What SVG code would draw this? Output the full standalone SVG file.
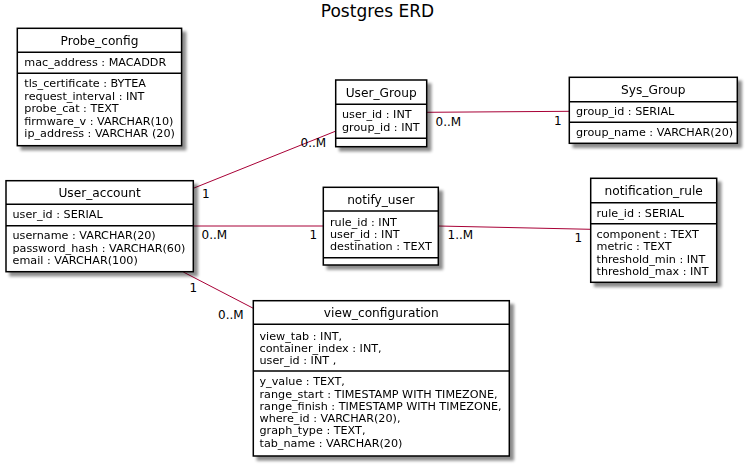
<svg xmlns="http://www.w3.org/2000/svg" width="747" height="466" viewBox="0 0 747 466">
<defs>
<filter id="sh" x="-10%" y="-10%" width="130%" height="130%">
<feGaussianBlur in="SourceAlpha" stdDeviation="1.8"/>
<feOffset dx="4" dy="4" result="b"/>
<feComponentTransfer><feFuncA type="linear" slope="0.45"/></feComponentTransfer>
<feMerge><feMergeNode/><feMergeNode in="SourceGraphic"/></feMerge>
</filter>
</defs>
<style>
.box{fill:#ffffff;stroke:#000000;stroke-width:1.5}
.sep{stroke:#000000;stroke-width:1.5}
.name{font-family:"DejaVu Sans",sans-serif;font-size:12.2px;fill:#000;text-anchor:middle}
.attr{font-family:"DejaVu Sans",sans-serif;font-size:11.2px;fill:#000}
.lbl{font-family:"DejaVu Sans",sans-serif;font-size:12px;fill:#000}
.con{stroke:#A80036;stroke-width:1;fill:none}
.title{font-family:"DejaVu Sans",sans-serif;font-size:17px;fill:#000;text-anchor:middle}
</style>
<rect width="747" height="466" fill="#ffffff"/>
<text class="title" x="377.5" y="17">Postgres ERD</text>

<g id="connectors">
<line class="con" x1="193.3" y1="188.3" x2="336" y2="131"/>
<text class="lbl" x="202" y="198">1</text>
<text class="lbl" x="300.5" y="147">0..M</text>
<line class="con" x1="426.7" y1="112.3" x2="570" y2="111.3"/>
<text class="lbl" x="435.5" y="125.5">0..M</text>
<text class="lbl" x="554" y="124.5">1</text>
<line class="con" x1="193.3" y1="226" x2="323.3" y2="226"/>
<text class="lbl" x="201.5" y="239">0..M</text>
<text class="lbl" x="309.5" y="239">1</text>
<line class="con" x1="438.3" y1="226" x2="590.7" y2="229.3"/>
<text class="lbl" x="447.5" y="239">1..M</text>
<text class="lbl" x="574.5" y="241.5">1</text>
<line class="con" x1="183.3" y1="272" x2="253.3" y2="308.3"/>
<text class="lbl" x="189.5" y="292">1</text>
<text class="lbl" x="218" y="319">0..M</text>
</g>

<g id="Probe_config" filter="url(#sh)">
<rect class="box" x="17.3" y="28.3" width="164.3" height="117.4"/>
<line class="sep" x1="17.3" y1="52.3" x2="181.6" y2="52.3"/>
<line class="sep" x1="17.3" y1="73.3" x2="181.6" y2="73.3"/>
<text class="name" x="99.5" y="45">Probe_config</text>
<text class="attr" x="24.3" y="66">mac_address : MACADDR</text>
<text class="attr" x="24.3" y="87.3">tls_certificate : BYTEA</text>
<text class="attr" x="24.3" y="99.8">request_interval : INT</text>
<text class="attr" x="24.3" y="112.3">probe_cat : TEXT</text>
<text class="attr" x="24.3" y="124.8">firmware_v : VARCHAR(10)</text>
<text class="attr" x="24.3" y="137.3">ip_address : VARCHAR (20)</text>
</g>

<g id="User_account" filter="url(#sh)">
<rect class="box" x="6" y="180.7" width="187.3" height="91"/>
<line class="sep" x1="6" y1="204.3" x2="193.3" y2="204.3"/>
<line class="sep" x1="6" y1="225.7" x2="193.3" y2="225.7"/>
<text class="name" x="99.6" y="197">User_account</text>
<text class="attr" x="12.5" y="218.3">user_id : SERIAL</text>
<text class="attr" x="12.5" y="239.3">username : VARCHAR(20)</text>
<text class="attr" x="12.5" y="251.8">password_hash : VARCHAR(60)</text>
<text class="attr" x="12.5" y="264.3">email : VARCHAR(100)</text>
</g>

<g id="User_Group" filter="url(#sh)">
<rect class="box" x="335.7" y="80" width="91" height="66.7"/>
<line class="sep" x1="335.7" y1="104.3" x2="426.7" y2="104.3"/>
<line class="sep" x1="335.7" y1="138.3" x2="426.7" y2="138.3"/>
<text class="name" x="381.2" y="97">User_Group</text>
<text class="attr" x="342" y="118.3">user_id : INT</text>
<text class="attr" x="342" y="130.8">group_id : INT</text>
</g>

<g id="Sys_Group" filter="url(#sh)">
<rect class="box" x="569.3" y="77.3" width="168" height="66"/>
<line class="sep" x1="569.3" y1="101.7" x2="737.3" y2="101.7"/>
<line class="sep" x1="569.3" y1="122.3" x2="737.3" y2="122.3"/>
<text class="name" x="653.3" y="94">Sys_Group</text>
<text class="attr" x="576" y="115">group_id : SERIAL</text>
<text class="attr" x="576" y="135.7">group_name : VARCHAR(20)</text>
</g>

<g id="notify_user" filter="url(#sh)">
<rect class="box" x="323.3" y="187.3" width="115" height="77.7"/>
<line class="sep" x1="323.3" y1="211" x2="438.3" y2="211"/>
<line class="sep" x1="323.3" y1="257.7" x2="438.3" y2="257.7"/>
<text class="name" x="380.8" y="204">notify_user</text>
<text class="attr" x="330" y="225.7">rule_id : INT</text>
<text class="attr" x="330" y="238">user_id : INT</text>
<text class="attr" x="330" y="250.3">destination : TEXT</text>
</g>

<g id="notification_rule" filter="url(#sh)">
<rect class="box" x="590.7" y="178.3" width="126" height="104"/>
<line class="sep" x1="590.7" y1="202.7" x2="716.7" y2="202.7"/>
<line class="sep" x1="590.7" y1="223.7" x2="716.7" y2="223.7"/>
<text class="name" x="653.7" y="195">notification_rule</text>
<text class="attr" x="596.5" y="216.7">rule_id : SERIAL</text>
<text class="attr" x="596.5" y="237.7">component : TEXT</text>
<text class="attr" x="596.5" y="250">metric : TEXT</text>
<text class="attr" x="596.5" y="262.5">threshold_min : INT</text>
<text class="attr" x="596.5" y="275">threshold_max : INT</text>
</g>

<g id="view_configuration" filter="url(#sh)">
<rect class="box" x="253.3" y="300.7" width="256" height="155.3"/>
<line class="sep" x1="253.3" y1="324.3" x2="509.3" y2="324.3"/>
<line class="sep" x1="253.3" y1="371" x2="509.3" y2="371"/>
<text class="name" x="381.3" y="317">view_configuration</text>
<text class="attr" x="259.5" y="339.5">view_tab : INT,</text>
<text class="attr" x="259.5" y="351.8">container_index : INT,</text>
<text class="attr" x="259.5" y="364.1">user_id : INT ,</text>
<text class="attr" x="259.5" y="385.2">y_value : TEXT,</text>
<text class="attr" x="259.5" y="397.5">range_start : TIMESTAMP WITH TIMEZONE,</text>
<text class="attr" x="259.5" y="409.8">range_finish : TIMESTAMP WITH TIMEZONE,</text>
<text class="attr" x="259.5" y="422.1">where_id : VARCHAR(20),</text>
<text class="attr" x="259.5" y="434.4">graph_type : TEXT,</text>
<text class="attr" x="259.5" y="446.7">tab_name : VARCHAR(20)</text>
</g>
</svg>
